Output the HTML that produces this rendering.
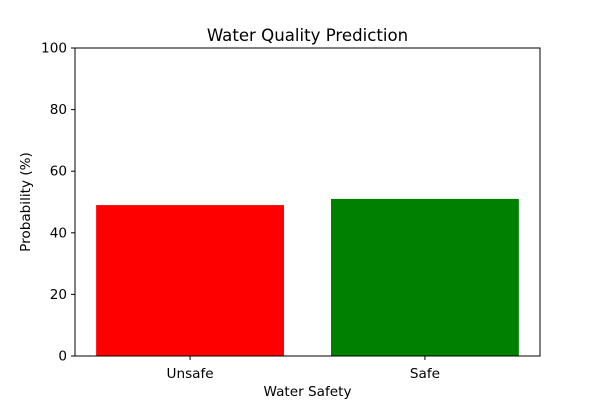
<!DOCTYPE html>
<html>
<head>
<meta charset="utf-8">
<style>
  html,body{margin:0;padding:0;background:#fff;}
  svg{display:block;font-family:"DejaVu Sans","Liberation Sans",sans-serif;}
</style>
</head>
<body>
<svg id="chart" width="600" height="400" viewBox="0 0 600 400">
  <rect x="0" y="0" width="600" height="400" fill="#fff"/>
  <g id="bars"></g>
  <rect x="75" y="48" width="465" height="308" fill="none" stroke="#000" stroke-width="1"/>
  <g id="yticks"></g>
  <g id="xticks"></g>
  <text x="307.5" y="41" text-anchor="middle" font-size="16.6">Water Quality Prediction</text>
  <text x="307.5" y="396" text-anchor="middle" font-size="13.6">Water Safety</text>
  <text x="30" y="202" text-anchor="middle" font-size="13.6" transform="rotate(-90 30 202)">Probability (%)</text>
</svg>
<script>
const categories = ["Unsafe", "Safe"];
const values = [49, 51];
const colors = ["#ff0000", "#008000"];
const yTicks = [0, 20, 40, 60, 80, 100];

const L = 75, R = 540, T = 48, B = 356;
const xMin = -0.49, xMax = 1.49, yMin = 0, yMax = 100;
const xs = v => L + (v - xMin) / (xMax - xMin) * (R - L);
const ys = v => B - (v - yMin) / (yMax - yMin) * (B - T);
const NS = "http://www.w3.org/2000/svg";
function mk(tag, attrs, parent) {
  const e = document.createElementNS(NS, tag);
  for (const k in attrs) e.setAttribute(k, attrs[k]);
  parent.appendChild(e);
  return e;
}
const barsG = document.getElementById("bars");
const xG = document.getElementById("xticks");
const yG = document.getElementById("yticks");
categories.forEach((c, i) => {
  const x0 = xs(i - 0.4), x1 = xs(i + 0.4);
  const r = mk("rect", {x: x0, y: ys(values[i]), width: x1 - x0, height: ys(0) - ys(values[i]), fill: colors[i]}, barsG);
  
  
  const t = mk("line", {x1: xs(i), x2: xs(i), y1: B, y2: B + 4, stroke: "#000"}, xG);
  
  
  const lb = mk("text", {x: xs(i), y: B + 22, "text-anchor": "middle", "font-size": "13.6"}, xG);
  lb.textContent = c;
  
  
});
yTicks.forEach(v => {
  const t = mk("line", {x1: L - 4, x2: L, y1: ys(v), y2: ys(v), stroke: "#000"}, yG);
  
  
  const lb = mk("text", {x: L - 8, y: ys(v) + 4.5, "text-anchor": "end", "font-size": "13.6"}, yG);
  lb.textContent = v;
  
  
});
</script>
</body>
</html>
